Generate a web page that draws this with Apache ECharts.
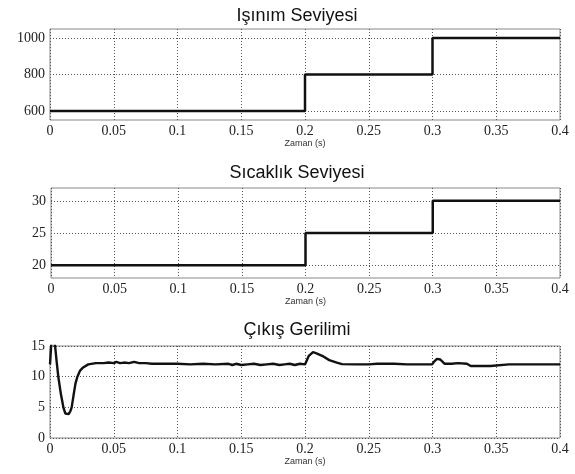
<!DOCTYPE html>
<html>
<head>
<meta charset="utf-8">
<script src="https://cdn.jsdelivr.net/npm/echarts@6/dist/echarts.min.js"></script>
<style>
  html, body { margin: 0; padding: 0; background: #fff; }
  #main { width: 575px; height: 474px; }
</style>
</head>
<body>
<div id="main"></div>
<script>
    // basamak girişleri (ışınım, sıcaklık)
    var stepTime = [0, 0.2, 0.3, 0.4];
    var irradiance = [600, 800, 1000, 1000];
    var temperature = [20, 25, 30, 30];

    // eksen etiketleri
    var irrTicks = [600, 800, 1000];
    var tempTicks = [20, 25, 30];
    var voltTicks = [0, 5, 10, 15];

    // çıkış gerilimi, resimden okunan noktalar
    var voltageTime = [0, 0.0015, 0.003, 0.004, 0.0052, 0.0065, 0.0085, 0.0105, 0.012, 0.0133, 0.0148, 0.016, 0.017, 0.0185,
        0.02, 0.0215, 0.0236, 0.026, 0.03, 0.036, 0.042, 0.046, 0.05, 0.052, 0.055, 0.058, 0.062, 0.066, 0.07, 0.075,
        0.08, 0.09, 0.1, 0.11, 0.12, 0.13, 0.14, 0.143, 0.146, 0.15, 0.155, 0.16, 0.165, 0.17, 0.175, 0.18, 0.184,
        0.188, 0.192, 0.196, 0.2, 0.2006, 0.203, 0.2063, 0.209, 0.2135, 0.219, 0.225, 0.229, 0.24, 0.25, 0.2565,
        0.26, 0.27, 0.28, 0.29, 0.2996, 0.3015, 0.3035, 0.306, 0.3096, 0.315, 0.32, 0.327, 0.33, 0.34, 0.3455,
        0.347, 0.36, 0.38, 0.4];
    var voltage = [12, 17, 17, 15, 12.5, 10, 7.2, 5, 4.0, 3.7, 3.9, 4.4, 5, 7.0,
        8.9, 10, 11, 11.5, 12, 12.2, 12.2, 12.3, 12.2, 12.4, 12.2, 12.3, 12.2, 12.4, 12.2, 12.2,
        12.1, 12.1, 12.1, 12.0, 12.1, 12.0, 12.1, 11.9, 12.1, 11.9, 12.0, 12.1, 11.9, 12.0, 12.1, 11.9, 12.0,
        12.1, 11.9, 12.1, 12.0, 12.3, 13.4, 14.0, 13.8, 13.4, 12.7, 12.3, 12.05, 12.0, 12.0, 12.1,
        12.1, 12.1, 12.0, 12.0, 12.0, 12.5, 12.9, 12.8, 12.1, 12.1, 12.2, 12.1, 11.75, 11.75, 11.75,
        12.0, 12.0, 12.0, 12.0];

    var titles = ['Işınım Seviyesi', 'Sıcaklık Seviyesi', 'Çıkış Gerilimi'];
    var xName = 'Zaman (s)';

    var Chart_main = echarts.init(document.getElementById('main'));

    function toPairs(xs, ys) {
        var out = [];
        for (var i = 0; i < xs.length; i++) {
            out.push([xs[i], ys[i]]);
        }
        return out;
    }

    var gridLine = {show: true, lineStyle: {color: '#555', width: 1, type: [1, 2]}};
    var tickFont = {fontFamily: 'Liberation Serif', fontSize: 14, color: '#222'};

    function xAxis(idx) {
        return {
            type: 'value', gridIndex: idx, min: 0, max: 0.4, interval: 0.05,
            axisLine: {show: false}, axisTick: {show: false},
            splitLine: gridLine,
            axisLabel: Object.assign({margin: 4}, tickFont),
            name: xName, nameLocation: 'middle', nameGap: 18,
            nameTextStyle: {fontFamily: 'Liberation Sans', fontSize: 9, color: '#333'}
        };
    }

    // y ekseni: çizgiler ve etiketler sadece verilen değerlerde
    function yAxis(idx, min, max, ticks) {
        return {
            type: 'value', gridIndex: idx, min: min, max: max,
            axisLine: {show: false},
            axisTick: {show: false, customValues: ticks},
            splitLine: gridLine,
            axisLabel: Object.assign({
                margin: 5, customValues: ticks,
                formatter: function (v) { return String(v); }
            }, tickFont)
        };
    }

    var gridBox = {show: true, borderColor: '#888', borderWidth: 1, backgroundColor: '#fff'};
    var titleFont = {fontFamily: 'Liberation Sans', fontSize: 18, fontWeight: 'normal', color: '#111'};

    var option = {
        animation: false,
        backgroundColor: '#fff',
        title: [
            {text: titles[0], left: 292, top: 2, textAlign: 'center', textStyle: titleFont},
            {text: titles[1], left: 292, top: 159, textAlign: 'center', textStyle: titleFont},
            {text: titles[2], left: 292, top: 316, textAlign: 'center', textStyle: titleFont}
        ],
        grid: [
            Object.assign({left: 50, right: 15, top: 29, height: 91}, gridBox),
            Object.assign({left: 51, right: 15, top: 188, height: 90}, gridBox),
            Object.assign({left: 50, right: 15, top: 346, height: 92}, gridBox)
        ],
        xAxis: [xAxis(0), xAxis(1), xAxis(2)],
        yAxis: [yAxis(0, 550, 1050, irrTicks), yAxis(1, 18, 32, tempTicks), yAxis(2, 0, 15, voltTicks)],
        series: [
            {
                type: 'line', xAxisIndex: 0, yAxisIndex: 0, step: 'end', showSymbol: false,
                lineStyle: {color: '#111', width: 2.5},
                data: toPairs(stepTime, irradiance)
            },
            {
                type: 'line', xAxisIndex: 1, yAxisIndex: 1, step: 'end', showSymbol: false,
                lineStyle: {color: '#111', width: 2.5},
                data: toPairs(stepTime, temperature)
            },
            {
                type: 'line', xAxisIndex: 2, yAxisIndex: 2, showSymbol: false, clip: true,
                lineStyle: {color: '#111', width: 2.4},
                data: toPairs(voltageTime, voltage)
            }
        ]
    };

    Chart_main.setOption(option);
</script>
</body>
</html>
